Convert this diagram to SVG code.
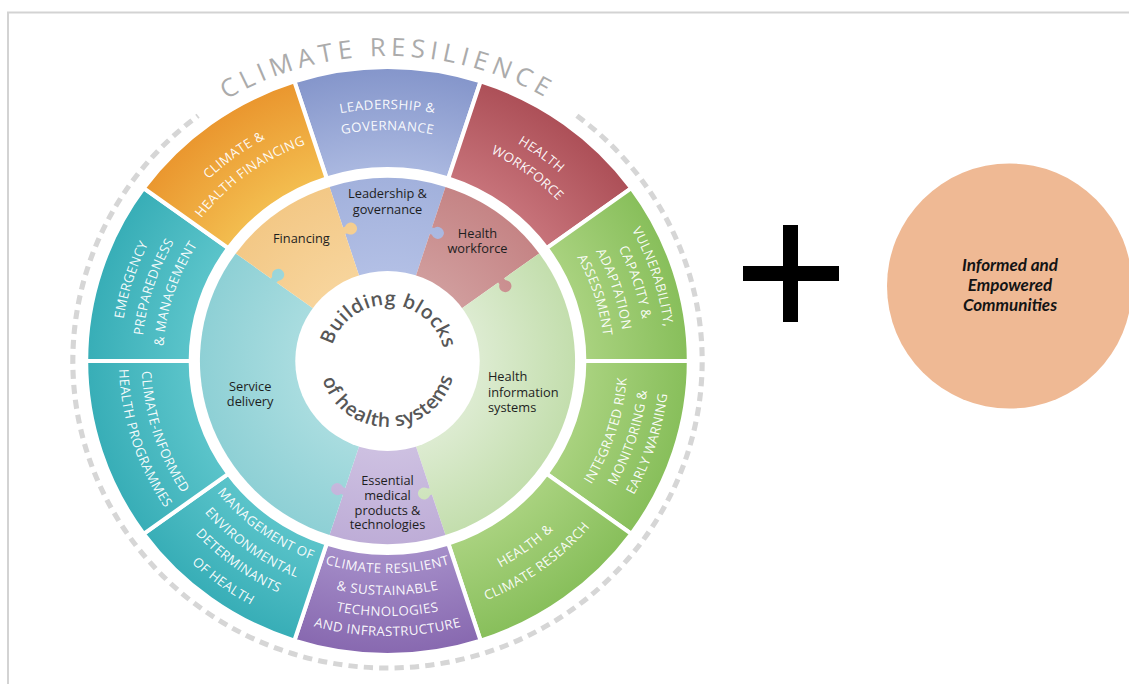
<svg xmlns="http://www.w3.org/2000/svg" width="1129" height="684" viewBox="0 0 1129 684">
  <style>
    .seg { stroke: #ffffff; stroke-width: 4; }
    .ot { font-family: "Open Sans", "Liberation Sans", sans-serif; font-size: 13px; fill: #ffffff; fill-opacity: 0.95; letter-spacing: 0.4px; text-anchor: middle; }
    .il { font-family: "Open Sans", "Liberation Sans", sans-serif; font-size: 12.5px; fill: #1e1e1e; text-anchor: middle; }
    .il-left { text-anchor: start; }
    .hub { font-family: "Open Sans", "Liberation Sans", sans-serif; font-size: 19px; font-weight: 600; fill: #575757; text-anchor: middle; letter-spacing: 0.6px; }
    .cr { font-family: "Open Sans", "Liberation Sans", sans-serif; font-size: 25px; fill: #ababab; letter-spacing: 5px; text-anchor: middle; }
    .comm { font-family: Lato, "Liberation Sans", sans-serif; font-size: 17px; font-weight: 700; font-style: italic; fill: #141414; text-anchor: middle; }
  </style>
  <defs>
    <!-- outer ring shading: lighter at the inner edge, deeper at the rim -->
    <radialGradient id="g-blue" gradientUnits="userSpaceOnUse" cx="0" cy="0" r="292">
      <stop offset="0.66" stop-color="#aab8e0"/><stop offset="1" stop-color="#8596cb"/>
    </radialGradient>
    <radialGradient id="g-red" gradientUnits="userSpaceOnUse" cx="0" cy="0" r="292">
      <stop offset="0.66" stop-color="#c7737a"/><stop offset="1" stop-color="#ad5058"/>
    </radialGradient>
    <radialGradient id="g-green" gradientUnits="userSpaceOnUse" cx="0" cy="0" r="292">
      <stop offset="0.66" stop-color="#a9d27f"/><stop offset="1" stop-color="#88bf5b"/>
    </radialGradient>
    <radialGradient id="g-purple" gradientUnits="userSpaceOnUse" cx="0" cy="0" r="292">
      <stop offset="0.66" stop-color="#a58ec9"/><stop offset="1" stop-color="#8869b0"/>
    </radialGradient>
    <radialGradient id="g-teal" gradientUnits="userSpaceOnUse" cx="0" cy="0" r="292">
      <stop offset="0.66" stop-color="#5bc4ca"/><stop offset="1" stop-color="#38aeb7"/>
    </radialGradient>
    <radialGradient id="g-orange" gradientUnits="userSpaceOnUse" cx="0" cy="0" r="292">
      <stop offset="0.66" stop-color="#f3bd4f"/><stop offset="1" stop-color="#ea972f"/>
    </radialGradient>
    <!-- inner puzzle ring -->
    <radialGradient id="i-blue" gradientUnits="userSpaceOnUse" cx="0" cy="0" r="183">
      <stop offset="0.5" stop-color="#b2bfe5"/><stop offset="1" stop-color="#a2b1dc"/>
    </radialGradient>
    <radialGradient id="i-orange" gradientUnits="userSpaceOnUse" cx="0" cy="0" r="183">
      <stop offset="0.5" stop-color="#f7d49b"/><stop offset="1" stop-color="#f3c886"/>
    </radialGradient>
    <radialGradient id="i-red" gradientUnits="userSpaceOnUse" cx="0" cy="0" r="183">
      <stop offset="0.5" stop-color="#d09c9c"/><stop offset="1" stop-color="#c58485"/>
    </radialGradient>
    <radialGradient id="i-green" gradientUnits="userSpaceOnUse" cx="0" cy="0" r="183">
      <stop offset="0.5" stop-color="#dcebd0"/><stop offset="1" stop-color="#c3dead"/>
    </radialGradient>
    <radialGradient id="i-purple" gradientUnits="userSpaceOnUse" cx="0" cy="0" r="183">
      <stop offset="0.5" stop-color="#cdc0e1"/><stop offset="1" stop-color="#beadd7"/>
    </radialGradient>
    <radialGradient id="i-teal" gradientUnits="userSpaceOnUse" cx="0" cy="0" r="183">
      <stop offset="0.5" stop-color="#a8dcdf"/><stop offset="1" stop-color="#8ed0d5"/>
    </radialGradient>

    <!-- text arcs centred on the top (read clockwise) -->
    <path id="t305" d="M -300.37 -52.96 A 305 305 0 0 1 300.37 -52.96"/>
    <path id="t272" d="M -267.87 -47.23 A 272 272 0 0 1 267.87 -47.23"/>
    <path id="t261" d="M -257.04 -45.32 A 261 261 0 0 1 257.04 -45.32"/>
    <path id="t252" d="M -248.17 -43.76 A 252 252 0 0 1 248.17 -43.76"/>
    <path id="t240" d="M -236.35 -41.68 A 240 240 0 0 1 236.35 -41.68"/>
    <path id="t231" d="M -227.49 -40.11 A 231 231 0 0 1 227.49 -40.11"/>
    <path id="t219" d="M -215.67 -38.03 A 219 219 0 0 1 215.67 -38.03"/>
    <path id="t212" d="M -208.78 -36.81 A 212 212 0 0 1 208.78 -36.81"/>
    <path id="t56" d="M -55.15 9.72 A 56 56 0 1 1 55.15 9.72"/>
    <!-- text arcs centred on the bottom (read left to right) -->
    <path id="b212" d="M -208.78 36.81 A 212 212 0 0 0 208.78 36.81"/>
    <path id="b234" d="M -230.45 40.63 A 234 234 0 0 0 230.45 40.63"/>
    <path id="b240" d="M -236.35 41.68 A 240 240 0 0 0 236.35 41.68"/>
    <path id="b255" d="M -251.13 44.28 A 255 255 0 0 0 251.13 44.28"/>
    <path id="b258" d="M -254.08 44.80 A 258 258 0 0 0 254.08 44.80"/>
    <path id="b262" d="M -258.02 45.50 A 262 262 0 0 0 258.02 45.50"/>
    <path id="b275" d="M -270.82 47.75 A 275 275 0 0 0 270.82 47.75"/>
    <path id="b278" d="M -273.78 48.27 A 278 278 0 0 0 273.78 48.27"/>
    <path id="b66" d="M -65.00 -11.46 A 66 66 0 1 0 65.00 -11.46"/>
  </defs>

  <!-- page frame -->
  <rect x="8" y="12.5" width="1200" height="700" fill="none" stroke="#d3d3d3" stroke-width="2"/>

  <g id="wheel" transform="translate(387.5 361) scale(1.025 1)">
    <!-- dashed resilience ring -->
    <path id="resilience-ring" d="M 184.76 -245.18 A 307 307 0 1 1 -184.76 -245.18" fill="none" stroke="#d6d6d6" stroke-width="5" stroke-dasharray="9 6"/>
    <g id="climate-resilience">
      <text class="cr"><textPath href="#t305" startOffset="50%">CLIMATE RESILIENCE</textPath></text>
    </g>

    <!-- outer ring: climate resilience components -->
    <g id="outer-leadership">
      <path class="seg" fill="url(#g-blue)" d="M -90.85 -279.61 A 294 294 0 0 1 90.85 -279.61 L 59.33 -182.60 A 192 192 0 0 0 -59.33 -182.60 Z"/>
      <text class="ot"><textPath href="#t252" startOffset="50%">LEADERSHIP &amp;</textPath></text>
      <text class="ot"><textPath href="#t231" startOffset="50%">GOVERNANCE</textPath></text>
    </g>
    <g id="outer-workforce">
      <path class="seg" fill="url(#g-red)" d="M 90.85 -279.61 A 294 294 0 0 1 237.85 -172.81 L 155.33 -112.86 A 192 192 0 0 0 59.33 -182.60 Z"/>
      <text class="ot" transform="rotate(36)"><textPath href="#t252" startOffset="50%">HEALTH</textPath></text>
      <text class="ot" transform="rotate(36)"><textPath href="#t231" startOffset="50%">WORKFORCE</textPath></text>
    </g>
    <g id="outer-vulnerability">
      <path class="seg" fill="url(#g-green)" d="M 237.85 -172.81 A 294 294 0 0 1 294 0 L 192 0 A 192 192 0 0 0 155.33 -112.86 Z"/>
      <text class="ot" transform="rotate(72)"><textPath href="#t272" startOffset="50%">VULNERABILITY,</textPath></text>
      <text class="ot" transform="rotate(72)"><textPath href="#t252" startOffset="50%">CAPACITY &amp;</textPath></text>
      <text class="ot" transform="rotate(72)"><textPath href="#t231" startOffset="50%">ADAPTATION</textPath></text>
      <text class="ot" transform="rotate(72)"><textPath href="#t212" startOffset="50%">ASSESSMENT</textPath></text>
    </g>
    <g id="outer-early-warning">
      <path class="seg" fill="url(#g-green)" d="M 294 0 A 294 294 0 0 1 237.85 172.81 L 155.33 112.86 A 192 192 0 0 0 192 0 Z"/>
      <text class="ot" transform="rotate(-72)"><textPath href="#b234" startOffset="50%">INTEGRATED RISK</textPath></text>
      <text class="ot" transform="rotate(-72)"><textPath href="#b255" startOffset="50%">MONITORING &amp;</textPath></text>
      <text class="ot" transform="rotate(-72)"><textPath href="#b275" startOffset="50%">EARLY WARNING</textPath></text>
    </g>
    <g id="outer-research">
      <path class="seg" fill="url(#g-green)" d="M 237.85 172.81 A 294 294 0 0 1 90.85 279.61 L 59.33 182.60 A 192 192 0 0 0 155.33 112.86 Z"/>
      <text class="ot" transform="rotate(-36)"><textPath href="#b234" startOffset="50%">HEALTH &amp;</textPath></text>
      <text class="ot" transform="rotate(-36)"><textPath href="#b258" startOffset="50%">CLIMATE RESEARCH</textPath></text>
    </g>
    <g id="outer-technologies">
      <path class="seg" fill="url(#g-purple)" d="M 90.85 279.61 A 294 294 0 0 1 -90.85 279.61 L -59.33 182.60 A 192 192 0 0 0 59.33 182.60 Z"/>
      <text class="ot"><textPath href="#b212" startOffset="50%">CLIMATE RESILIENT</textPath></text>
      <text class="ot"><textPath href="#b234" startOffset="50%">&amp; SUSTAINABLE</textPath></text>
      <text class="ot"><textPath href="#b255" startOffset="50%">TECHNOLOGIES</textPath></text>
      <text class="ot"><textPath href="#b275" startOffset="50%">AND INFRASTRUCTURE</textPath></text>
    </g>
    <g id="outer-determinants">
      <path class="seg" fill="url(#g-teal)" d="M -90.85 279.61 A 294 294 0 0 1 -237.85 172.81 L -155.33 112.86 A 192 192 0 0 0 -59.33 182.60 Z"/>
      <text class="ot" transform="rotate(36)"><textPath href="#b212" startOffset="50%">MANAGEMENT OF</textPath></text>
      <text class="ot" transform="rotate(36)"><textPath href="#b234" startOffset="50%">ENVIRONMENTAL</textPath></text>
      <text class="ot" transform="rotate(36)"><textPath href="#b255" startOffset="50%">DETERMINANTS</textPath></text>
      <text class="ot" transform="rotate(36)"><textPath href="#b278" startOffset="50%">OF HEALTH</textPath></text>
    </g>
    <g id="outer-programmes">
      <path class="seg" fill="url(#g-teal)" d="M -237.85 172.81 A 294 294 0 0 1 -294 0 L -192 0 A 192 192 0 0 0 -155.33 112.86 Z"/>
      <text class="ot" transform="rotate(72)"><textPath href="#b240" startOffset="50%">CLIMATE-INFORMED</textPath></text>
      <text class="ot" transform="rotate(72)"><textPath href="#b262" startOffset="50%">HEALTH PROGRAMMES</textPath></text>
    </g>
    <g id="outer-emergency">
      <path class="seg" fill="url(#g-teal)" d="M -294 0 A 294 294 0 0 1 -237.85 -172.81 L -155.33 -112.86 A 192 192 0 0 0 -192 0 Z"/>
      <text class="ot" transform="rotate(-72)"><textPath href="#t261" startOffset="50%">EMERGENCY</textPath></text>
      <text class="ot" transform="rotate(-72)"><textPath href="#t240" startOffset="50%">PREPAREDNESS</textPath></text>
      <text class="ot" transform="rotate(-72)"><textPath href="#t219" startOffset="50%">&amp; MANAGEMENT</textPath></text>
    </g>
    <g id="outer-financing">
      <path class="seg" fill="url(#g-orange)" d="M -237.85 -172.81 A 294 294 0 0 1 -90.85 -279.61 L -59.33 -182.60 A 192 192 0 0 0 -155.33 -112.86 Z"/>
      <text class="ot" transform="rotate(-36)"><textPath href="#t252" startOffset="50%">CLIMATE &amp;</textPath></text>
      <text class="ot" transform="rotate(-36)"><textPath href="#t231" startOffset="50%">HEALTH FINANCING</textPath></text>
    </g>

    <!-- inner ring: building blocks -->
    <g id="block-leadership">
      <path fill="url(#i-blue)" d="M 0 0 L -56.55 -174.04 A 183 183 0 0 1 56.55 -174.04 Z"/>
      <text class="il" x="0" y="-163">Leadership &amp;</text>
      <text class="il" x="0" y="-147">governance</text>
    </g>
    <g id="block-workforce">
      <path fill="url(#i-red)" d="M 0 0 L 56.55 -174.04 A 183 183 0 0 1 148.05 -107.56 Z"/>
      <text class="il" x="87.8" y="-123">Health</text>
      <text class="il" x="87.8" y="-108">workforce</text>
    </g>
    <g id="block-information">
      <path fill="url(#i-green)" d="M 0 0 L 148.05 -107.56 A 183 183 0 0 1 56.55 174.04 Z"/>
      <text class="il il-left" x="98" y="20">Health</text>
      <text class="il il-left" x="98" y="36">information</text>
      <text class="il il-left" x="98" y="51">systems</text>
    </g>
    <g id="block-medical">
      <path fill="url(#i-purple)" d="M 0 0 L 56.55 174.04 A 183 183 0 0 1 -56.55 174.04 Z"/>
      <text class="il" x="0" y="124">Essential</text>
      <text class="il" x="0" y="139">medical</text>
      <text class="il" x="0" y="154">products &amp;</text>
      <text class="il" x="0" y="168">technologies</text>
    </g>
    <g id="block-service">
      <path fill="url(#i-teal)" d="M 0 0 L -56.55 174.04 A 183 183 0 0 1 -148.05 -107.56 Z"/>
      <text class="il" x="-134" y="30">Service</text>
      <text class="il" x="-134" y="45">delivery</text>
    </g>
    <g id="block-financing">
      <path fill="url(#i-orange)" d="M 0 0 L -148.05 -107.56 A 183 183 0 0 1 -56.55 -174.04 Z"/>
      <text class="il" x="-84" y="-118">Financing</text>
    </g>

    <!-- puzzle tabs: each block locks into its clockwise neighbour -->
    <g id="puzzle-tabs">
      <g transform="rotate(-18)" fill="url(#i-orange)"><rect x="-1" y="-140.5" width="6" height="7"/><circle cx="7" cy="-137" r="6"/></g>
      <g transform="rotate(18)" fill="url(#i-blue)"><rect x="-1" y="-140.5" width="6" height="7"/><circle cx="7" cy="-137" r="6"/></g>
      <g transform="rotate(54)" fill="url(#i-red)"><rect x="-1" y="-140.5" width="6" height="7"/><circle cx="7" cy="-137" r="6"/></g>
      <g transform="rotate(162)" fill="url(#i-green)"><rect x="-1" y="-140.5" width="6" height="7"/><circle cx="7" cy="-137" r="6"/></g>
      <g transform="rotate(198)" fill="url(#i-purple)"><rect x="-1" y="-140.5" width="6" height="7"/><circle cx="7" cy="-137" r="6"/></g>
      <g transform="rotate(306)" fill="url(#i-teal)"><rect x="-1" y="-140.5" width="6" height="7"/><circle cx="7" cy="-137" r="6"/></g>
    </g>

    <!-- hub -->
    <g id="hub">
      <circle cx="0" cy="0" r="90" fill="#ffffff"/>
      <text class="hub" transform="rotate(2)"><textPath href="#t56" startOffset="50%">Building blocks</textPath></text>
      <text class="hub" transform="rotate(-1)"><textPath href="#b66" startOffset="50%">of health systems</textPath></text>
    </g>
  </g>

  <!-- plus sign -->
  <g id="plus" fill="#000000">
    <rect x="783" y="225" width="15" height="97"/>
    <rect x="743" y="266" width="96" height="15"/>
  </g>

  <g id="communities">
    <circle cx="1009.5" cy="286" r="122.5" fill="#efb994"/>
    <text class="comm" x="1010" y="271">Informed and</text>
    <text class="comm" x="1010" y="291">Empowered</text>
    <text class="comm" x="1010" y="311">Communities</text>
  </g>
</svg>
